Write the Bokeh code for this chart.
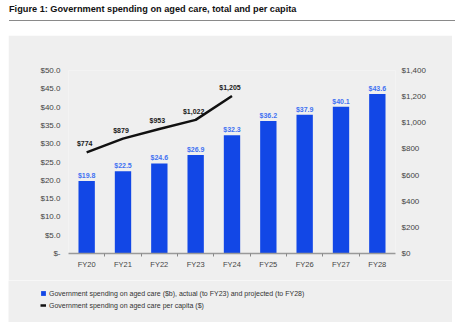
from bokeh.plotting import figure
from bokeh.models import (ColumnDataSource, Range1d, LinearAxis, FixedTicker, Legend, LegendItem, Div, LabelSet)
from bokeh.layouts import column
from bokeh.embed import file_html
from bokeh.resources import INLINE
from bokeh.core.properties import value

categories = ["FY20", "FY21", "FY22", "FY23", "FY24", "FY25", "FY26", "FY27", "FY28"]
total_spend_b = [19.8, 22.5, 24.6, 26.9, 32.3, 36.2, 37.9, 40.1, 43.6]
per_capita_categories = ["FY20", "FY21", "FY22", "FY23", "FY24"]
per_capita = [774, 879, 953, 1022, 1205]
left_ticks = [0, 5, 10, 15, 20, 25, 30, 35, 40, 45, 50]
right_ticks = [0, 200, 400, 600, 800, 1000, 1200, 1400]
bar_legend = "Government spending on aged care ($b), actual (to FY23) and projected (to FY28)"
line_legend = "Government spending on aged care per capita ($)"

FONT = "Liberation Sans"
BLUE = "#1247e6"
LABEL_BLUE = "#4272f2"
PANEL = "#efefef"

xs = list(range(len(categories)))
bar_src = ColumnDataSource(dict(
    x=xs, top=total_spend_b,
    label=["$%.1f" % v for v in total_spend_b]))
line_x = [categories.index(c) for c in per_capita_categories]
line_src = ColumnDataSource(dict(
    x=line_x, y=per_capita,
    label=["${:,}".format(v) for v in per_capita]))

p = figure(width=444, height=245, output_backend="svg", toolbar_location=None,
           x_range=Range1d(-0.5, len(categories) - 0.5), y_range=Range1d(0, 50),
           min_border_left=60, min_border_right=57, min_border_top=35, min_border_bottom=27,
           background_fill_color=PANEL, border_fill_color=PANEL, outline_line_color=None,
           margin=(0, 0, 0, 8), frame_align=False)
p.extra_y_ranges = {"pc": Range1d(0, 1400)}
p.grid.visible = False

p.vbar(x="x", top="top", width=0.45, source=bar_src, fill_color=BLUE, line_color=None)
p.line(x="x", y="y", source=line_src, y_range_name="pc", line_color="#111111", line_width=2.5)

p.add_layout(LabelSet(x="x", y="top", text="label", source=bar_src, text_align="center",
                      text_baseline="bottom", y_offset=2, text_font=value(FONT),
                      text_font_size="7px", text_font_style="bold", text_color=LABEL_BLUE))
p.add_layout(LabelSet(x="x", y="y", text="label", source=line_src, y_range_name="pc",
                      text_align="center", text_baseline="bottom", x_offset=-2, y_offset=5,
                      text_font=value(FONT), text_font_size="7px", text_font_style="bold",
                      text_color="#1a1a1a"))

# x axis
xa = p.xaxis[0]
xa.ticker = FixedTicker(ticks=xs, minor_ticks=[i + 0.5 for i in xs[:-1]])
xa.major_label_overrides = {i: c for i, c in enumerate(categories)}
xa.major_tick_line_color = None
xa.major_tick_in = 0
xa.major_tick_out = 0
xa.minor_tick_line_color = "#888888"
xa.minor_tick_in = 0
xa.minor_tick_out = 3
xa.axis_line_color = "#999999"
xa.axis_line_width = 1.5
xa.major_label_standoff = 3
xa.major_label_text_font = FONT
xa.major_label_text_font_size = "7.5px"
xa.major_label_text_color = "#444444"

# left axis
ya = p.yaxis[0]
ya.ticker = FixedTicker(ticks=left_ticks)
ya.major_label_overrides = {t: ("$-" if t == 0 else "$%.1f" % t) for t in left_ticks}
ya.axis_line_color = None
ya.major_tick_line_color = None
ya.major_tick_in = 0
ya.major_tick_out = 0
ya.minor_tick_line_color = None
ya.major_label_standoff = 8
ya.major_label_text_font = FONT
ya.major_label_text_font_size = "8px"
ya.major_label_text_color = "#444444"

# right axis
ra = LinearAxis(y_range_name="pc", ticker=FixedTicker(ticks=right_ticks))
ra.major_label_overrides = {t: "${:,}".format(t) for t in right_ticks}
ra.axis_line_color = None
ra.major_tick_line_color = None
ra.major_tick_in = 0
ra.major_tick_out = 0
ra.minor_tick_line_color = None
ra.major_label_standoff = 6
ra.major_label_text_font = FONT
ra.major_label_text_font_size = "8px"
ra.major_label_text_color = "#444444"
p.add_layout(ra, "right")

# legend strip (same grey panel continues below the chart)
lg = figure(width=444, height=42, output_backend="svg", toolbar_location=None,
            x_range=Range1d(0, 1), y_range=Range1d(0, 1), x_axis_type=None, y_axis_type=None,
            min_border=0, min_border_left=0, min_border_right=0, min_border_top=0, min_border_bottom=0,
            background_fill_color=PANEL, border_fill_color=PANEL,
            outline_line_color=None, margin=(0, 0, 0, 8), frame_align=False)
lg.grid.visible = False
# legend proxies sit outside the visible range, so only their legend swatches show
r_bar = lg.vbar(x=[5], top=[1], width=0.5, fill_color=BLUE, line_color=None)
r_line = lg.line(x=[5, 6], y=[0.5, 0.5], line_color="#111111", line_width=2.5)
legend = Legend(items=[
    LegendItem(label=bar_legend, renderers=[r_bar]),
    LegendItem(label=line_legend, renderers=[r_line]),
], location=(32, 12), orientation="vertical", background_fill_alpha=0, border_line_color=None,
   padding=0, margin=0, spacing=2, glyph_width=6, glyph_height=6, label_height=10,
   label_standoff=3, label_text_font=FONT, label_text_font_size="7px", label_text_color="#333333")
lg.add_layout(legend, "center")

title = Div(text=(
    '<div style="font-family:\'Liberation Sans\',Arial,sans-serif;font-weight:bold;font-size:9.2px;'
    'color:#111;padding:3px 0 0 9px;line-height:11px;">'
    'Figure 1: Government spending on aged care, total and per capita</div>'
    '<div style="margin:5px 0 0 9px;width:446px;border-top:1.5px solid #8a8a8a;"></div>'),
    width=457, height=35, margin=0)

layout = column(title, p, lg, spacing=0, margin=0)
open("out.html", "w").write(file_html(layout, INLINE))
